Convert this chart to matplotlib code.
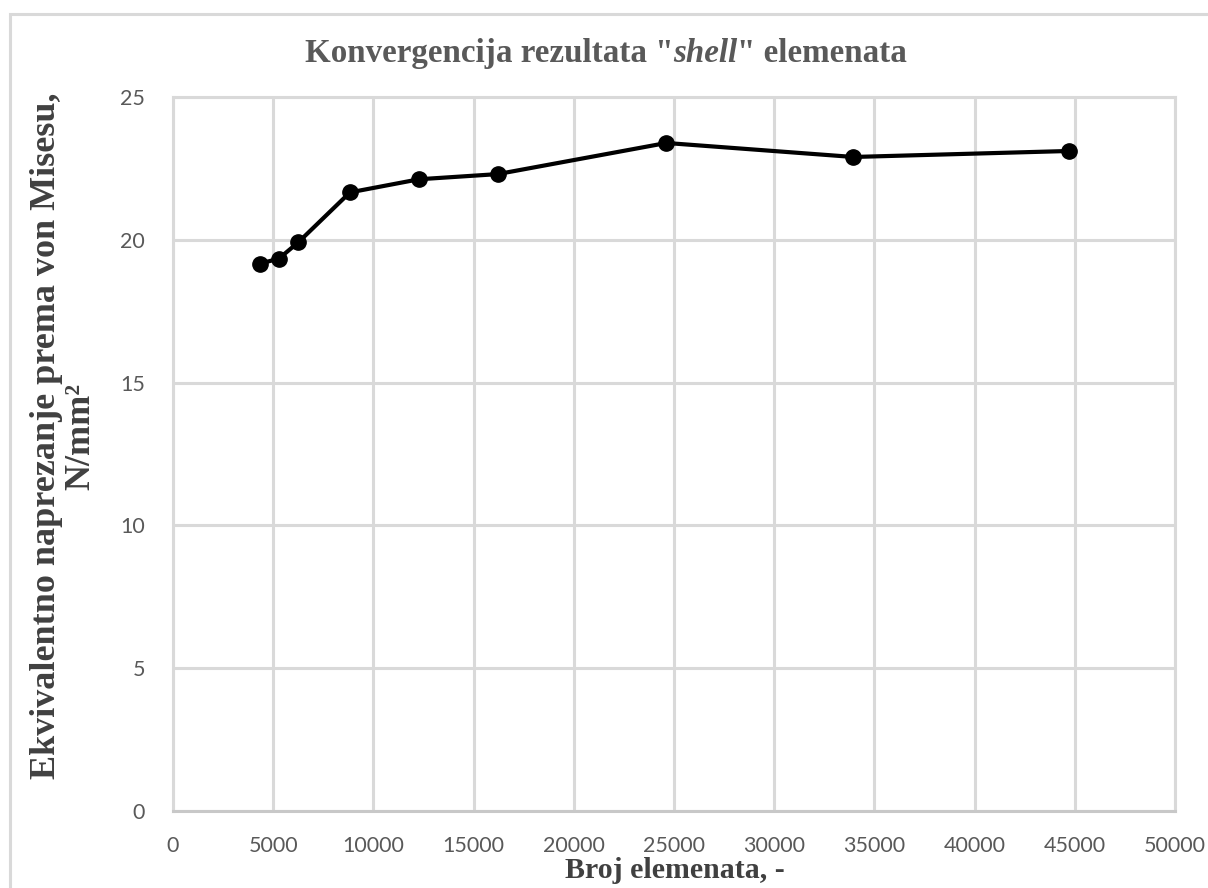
import matplotlib
matplotlib.use("Agg")
import matplotlib.pyplot as plt
from matplotlib.patches import Rectangle

# Data
broj_elemenata = [4365, 5280, 6250, 8830, 12280, 16200, 24620, 33950, 44715]
naprezanje = [19.17, 19.34, 19.91, 21.66, 22.12, 22.30, 23.39, 22.90, 23.11]
x_ticks = [0, 5000, 10000, 15000, 20000, 25000, 30000, 35000, 40000, 45000, 50000]
y_ticks = [0, 5, 10, 15, 20, 25]

title_parts = ['Konvergencija rezultata "', 'shell', '" elemenata']
x_label = "Broj elemenata, -"
y_label = "Ekvivalentno naprezanje prema von Misesu,\nN/mm\u00b2"

W, H = 1208, 888
fig = plt.figure(figsize=(W / 100, H / 100), dpi=100)
fig.patch.set_facecolor("white")

# chart border (light gray, cropped on right/bottom)
fig.patches.append(Rectangle((10 / W, -0.1), 1.2, (H - 14) / H + 0.1,
                             transform=fig.transFigure, fill=False,
                             edgecolor="#d9d9d9", lw=2.2, zorder=0))

ax = fig.add_axes([173 / W, (H - 811) / H, (1175 - 173) / W, (811 - 97) / H])
ax.set_xlim(0, 50000)
ax.set_ylim(0, 25)
ax.set_xticks(x_ticks)
ax.set_yticks(y_ticks)
ax.set_xticklabels([str(t) for t in x_ticks])
ax.set_yticklabels([str(t) for t in y_ticks])
ax.grid(True, color="#d9d9d9", lw=2.2, zorder=0)
ax.set_axisbelow(True)
for s in ["top", "right", "left"]:
    ax.spines[s].set_color("#d9d9d9")
    ax.spines[s].set_linewidth(2.2)
ax.spines["bottom"].set_color("#c8c8c8")
ax.spines["bottom"].set_linewidth(2.2)
ax.tick_params(length=0, colors="#595959", labelsize=15.5)
ax.tick_params(axis="y", pad=20)
ax.tick_params(axis="x", pad=18)
for lab in ax.get_xticklabels() + ax.get_yticklabels():
    lab.set_family(["Lato", "DejaVu Sans"])

ax.plot(broj_elemenata, naprezanje, color="black", lw=3, marker="o",
        markersize=11, zorder=3, clip_on=False)

serif = ["Liberation Serif", "DejaVu Serif"]

# axis titles
fig.text(675 / W, 1 - 878 / H, x_label, ha="center", va="baseline",
         fontsize=21.5, fontweight="bold", family=serif, color="#404040")
fig.text(64 / W, 1 - 436 / H, y_label, ha="center", va="center",
         rotation=90, fontsize=26, fontweight="bold", family=serif,
         color="#404040", linespacing=1.05, multialignment="center")

# title with italic piece
fig.canvas.draw()
r = fig.canvas.get_renderer()
styles = ["normal", "italic", "normal"]
texts = []
for part, st in zip(title_parts, styles):
    t = fig.text(0, 1 - 62 / H, part, ha="left", va="baseline", fontsize=23.8,
                 fontweight="bold", style=st, family=serif, color="#595959")
    texts.append(t)
widths = [t.get_window_extent(r).width for t in texts]
total = sum(widths)
x0 = 606 - total / 2
for t, w in zip(texts, widths):
    t.set_x(x0 / W)
    x0 += w

fig.savefig("out.png", dpi=100)
